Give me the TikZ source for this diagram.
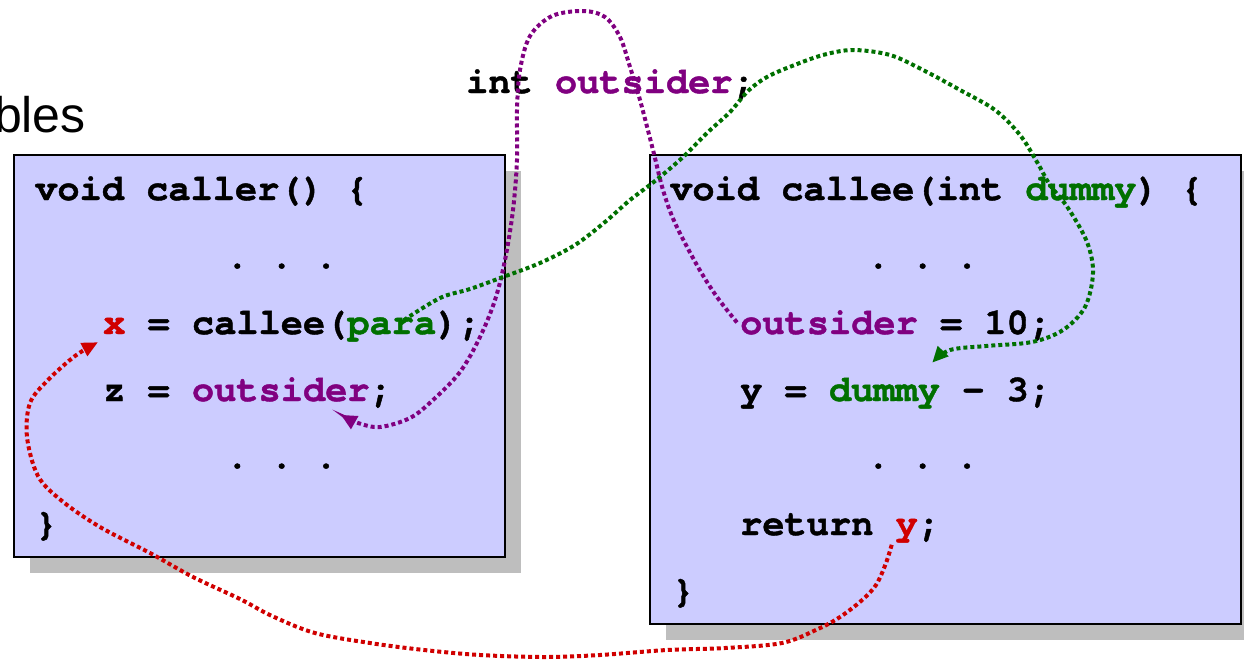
\documentclass[tikz,border=0pt]{standalone}
\usepackage{fontspec}
\setmonofont{texgyrecursor}[Extension=.otf, UprightFont=*-regular, BoldFont=*-bold, BoldFeatures={FakeBold=1.2}]
\setsansfont{Liberation Sans}
\usetikzlibrary{arrows.meta}
\definecolor{boxfill}{HTML}{CCCCFF}
\definecolor{shadowgray}{HTML}{BEBEBE}
\definecolor{vpurple}{HTML}{800080}
\definecolor{vgreen}{HTML}{007000}
\definecolor{vred}{HTML}{D00000}
\begin{document}
\begin{tikzpicture}[x=1pt,y=-1pt,
  code/.style={anchor=base west, inner sep=0pt, font=\ttfamily\bfseries\fontsize{37}{40}\selectfont},
  codebox/.style={draw=black, line width=2pt, fill=boxfill},
  shadowbox/.style={fill=shadowgray},
  flow/.style={line width=4pt, dash pattern=on 4pt off 3pt, -{Triangle[length=16pt,width=14pt]}}
]
\clip (0,0) rectangle (1244,659);
% title fragment
\node[anchor=base east, inner sep=0pt, font=\sffamily\fontsize{50}{54}\selectfont] (title) at (86,132) {bles};
% boxes
\fill[shadowbox] (30,171) rectangle (521,573);
\draw[codebox] (14,155) rectangle (505,557);
\fill[shadowbox] (666,171) rectangle (1257,640);
\draw[codebox] (650,155) rectangle (1241,624);
% global declaration
\node[code] (g1) at (466,93) {int};
\node[code, text=vpurple] (outs0) at (554.8,93) {outsider};
\node[code] (g2) at (732.4,93) {;};
% caller
\node[code] (c1) at (35,200) {void caller() \{};
\node[code] (c2) at (226,268) {. . .};
\node[code, text=vred] (xvar) at (103,334) {x};
\node[code] (c3a) at (147.4,334) {= callee(};
\node[code, text=vgreen] (para) at (347.2,334) {para};
\node[code] (c3b) at (436,334) {);};
\node[code] (c4a) at (103,401) {z =};
\node[code, text=vpurple] (outs1) at (191.8,401) {outsider};
\node[code] (c4b) at (369.4,401) {;};
\node[code] (c5) at (226,468) {. . .};
\node[code] (c6) at (35,535) {\}};
% callee
\node[code] (d1a) at (670,200) {void callee(int};
\node[code, text=vgreen] (dummy1) at (1025.2,200) {dummy};
\node[code] (d1b) at (1136.2,200) {) \{};
\node[code] (d2) at (867,268) {. . .};
\node[code, text=vpurple] (outs2) at (740,334) {outsider};
\node[code] (d3) at (939.8,334) {= 10;};
\node[code] (d4a) at (740,401) {y =};
\node[code, text=vgreen] (dummy2) at (828.8,401) {dummy};
\node[code] (d4b) at (962,401) {- 3;};
\node[code] (d5) at (867,468) {. . .};
\node[code] (d6a) at (740,535) {return};
\node[code, text=vred] (yret) at (895.4,535) {y};
\node[code] (d6b) at (917.6,535) {;};
\node[code] (d7) at (672,602) {\}};
% connectors
\draw[flow, vpurple] plot[smooth, tension=0.55] coordinates {
  ([xshift=-3pt]outs2.west) (717,297) (698,267) (675,223) (663,190) (653,150)
  (640,100) (630,67) (620,37) (605,17) (583,11) (552,16) (530,36) (520,70)
  (517,110) (517,160) (513,210) (505,260) (495,300) (480,337) (460,372)
  (433,400) (410,418) (380,427) (358,423) ([xshift=-29pt,yshift=-13pt]outs1.south east)};
\draw[flow, vgreen] plot[smooth, tension=0.55] coordinates {
  ([xshift=12pt,yshift=-3pt]para.north) (440,298) (470,289) (503,277) (540,263)
  (575,245) (605,222) (630,200) (655,181) (682,158) (707,133) (730,112)
  (748,91) (767,77) (792,66) (823,55) (853,50) (890,55) (923,70) (960,90)
  (995,110) (1020,135) (1037,162) (1050,185) (1068,208) (1087,242) (1093,273)
  (1085,307) (1063,330) (1032,342) (986,346) (950,350)
  ([xshift=-8pt,yshift=15pt]dummy2.north east)};
\draw[flow, vred] plot[smooth, tension=0.55] coordinates {
  ([xshift=-15pt,yshift=-2pt]yret.south) (886,563) (876,585) (861,601) (840,617)
  (818,629) (782,643) (725,648) (667,650) (600,655) (545,657) (480,655)
  (424,650) (370,643) (315,633) (272,616) (240,599) (193,577) (150,553)
  (100,527) (62,501) (38,476) (27,437) (30,403) (48,380) (75,356)
  ([xshift=-5pt,yshift=-8pt]xvar.south west)};
\end{tikzpicture}
\end{document}
